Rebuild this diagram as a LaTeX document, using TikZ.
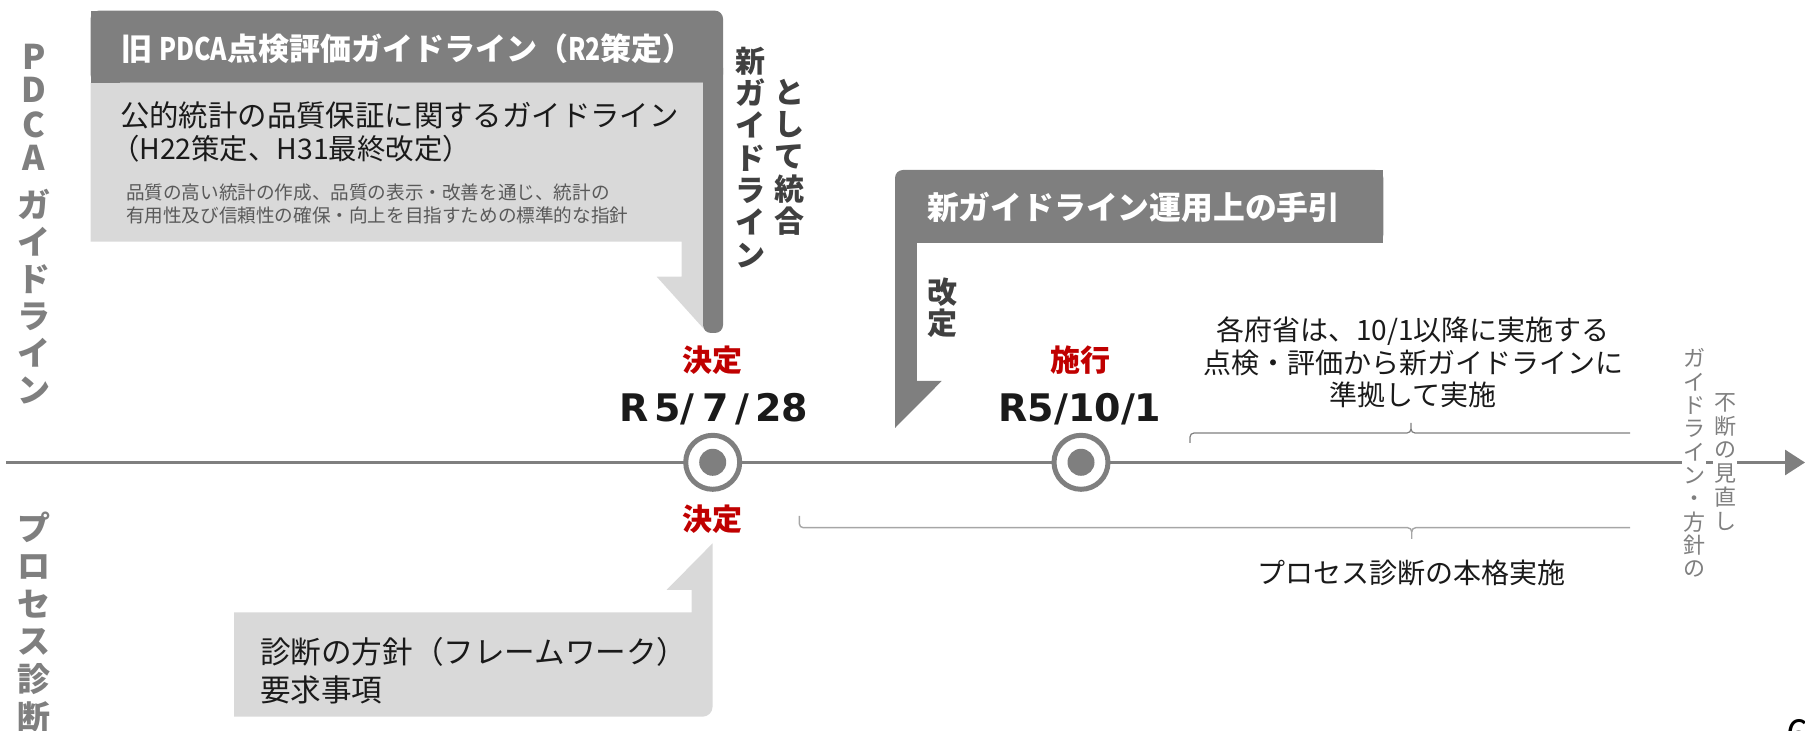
\documentclass[tikz,border=0pt]{standalone}
\usepackage{fontspec}
\usepackage{graphicx}
\setmainfont{Noto Sans CJK JP}
\newfontfamily\dvfont{DejaVu Sans}
\usetikzlibrary{arrows.meta}
\definecolor{dgray}{HTML}{7F7F7F}
\definecolor{lgray}{HTML}{D9D9D9}
\definecolor{jred}{HTML}{C00000}
\definecolor{txt}{HTML}{1A1A1A}
\definecolor{vgray}{HTML}{404040}
\definecolor{sgray}{HTML}{595959}
\definecolor{bgray}{HTML}{A6A6A6}
\begin{document}
\begin{tikzpicture}[x=0.5pt,y=-0.5pt]
\tikzset{
  base/.style={inner sep=0pt, outer sep=0pt},
  ttl/.style={base, anchor=west, text=white, font=\fontsize{15.5}{18}\selectfont\bfseries},
  body/.style={base, anchor=west, text=txt, font=\fontsize{14.7}{18}\selectfont},
  small/.style={base, anchor=west, text=sgray, font=\fontsize{9.3}{11}\selectfont},
  vdark/.style={base, text height=13.2pt, text depth=1.8pt, text=vgray, font=\fontsize{15}{15}\selectfont\bfseries},
  vside/.style={base, text height=14.5pt, text depth=2pt, text=dgray, font=\fontsize{16.5}{16.5}\selectfont\bfseries},
  vlat/.style={base, text height=12.4pt, text depth=0pt, text=dgray, font=\fontsize{17}{17}\selectfont\bfseries},
  vthin/.style={base, text height=9.7pt, text depth=1.3pt, text=dgray, font=\fontsize{11}{11}\selectfont},
  redlbl/.style={base, text=jred, font=\fontsize{15}{15}\selectfont\bfseries},
  datelbl/.style={base, anchor=base, text=txt, font=\dvfont\fontsize{19}{19}\selectfont\bfseries},
  note/.style={base, text=txt, align=center, font=\fontsize{14}{16.25}\selectfont},
  ring/.style={circle, draw=dgray, line width=2.5pt, fill=white, minimum size=27pt, inner sep=0pt},
  dot/.style={circle, fill=dgray, minimum size=13.5pt, inner sep=0pt},
  ubrace/.style={draw=dgray, line width=0.6pt},
  lbrace/.style={draw=bgray, line width=0.7pt},
}
\useasboundingbox (0,0) rectangle (1805,731);

% ---------- upper-left callout ----------
\fill[lgray] (90.6,82.7) -- (703,82.7) -- (703,328) -- (656.7,276.7) -- (681.7,276.7)
  -- (681.7,241.7) -- (90.6,241.7) -- cycle;
\fill[dgray, rounded corners=4pt] (90.6,10.7) rectangle (723,82.7);
\fill[dgray] (90.6,10.7) rectangle (120,82.7);
\fill[dgray, rounded corners=4pt] (703,60) rectangle (723,333);

\node[ttl] (t1) at (121,48.5) {旧 \scalebox{0.8}[1]{PDCA}点検評価ガイドライン（\scalebox{0.8}[1]{R2}策定）};
\node[body] (b1) at (120,115) {公的統計の品質保証に関するガイドライン};
\node[body, font=\fontsize{14.2}{18}\selectfont] (b2) at (111,149) {（H22策定、H31最終改定）};
\node[small] (s1) at (126,192) {品質の高い統計の作成、品質の表示・改善を通じ、統計の};
\node[small] (s2) at (126,215) {有用性及び信頼性の確保・向上を目指すための標準的な指針};

% vertical: 新ガイドライン / として統合
\foreach \c [count=\i from 0] in {新,ガ,イ,ド,ラ,イ,ン}
  \node[vdark] (na\i) at (750,61+32.3*\i) {\c};
\foreach \c [count=\i from 0] in {と,し,て,統,合}
  \node[vdark] (nb\i) at (789,92+32.3*\i) {\c};

% ---------- second dark callout ----------
\fill[dgray, rounded corners=4pt] (895,170) rectangle (1383.3,242.7);
\fill[dgray] (910,170) rectangle (1383.3,242.7);
\fill[dgray] (895,180) rectangle (916.7,381.7);
\fill[dgray] (895,381) -- (941.7,381) -- (895,428) -- cycle;
\node[ttl, font=\fontsize{15.9}{18}\selectfont\bfseries] (t2) at (927,207.5) {新ガイドライン運用上の手引};
\foreach \c [count=\i from 0] in {改,定}
  \node[vdark] (kt\i) at (942.5,292.5+31*\i) {\c};

% ---------- lower-left callout ----------
\fill[lgray] (234,612.3) -- (691.7,612.3) -- (691.7,590) -- (666.5,590) -- (712.6,543.3)
  -- (712.6,600) [rounded corners=5pt] -- (712.6,716.7) -- (600,716.7) [sharp corners]
  -- (234,716.7) -- cycle;
\node[body, font=\fontsize{15.3}{18}\selectfont] (f1) at (260,651.7) {診断の方針（フレームワーク）};
\node[body, font=\fontsize{15.3}{18}\selectfont] (f2) at (260,690) {要求事項};

% ---------- side labels ----------
\foreach \c/\y in {P/57,D/90,C/125,A/158}
  \node[vlat] (pd\c) at (34,\y) {\c};
\foreach \c [count=\i from 0] in {ガ,イ,ド,ラ,イ,ン}
  \node[vside] (pg\i) at (34,205+37*\i) {\c};
\foreach \c [count=\i from 0] in {プ,ロ,セ,ス,診,断}
  \node[vside] (ps\i) at (34,528+37.8*\i) {\c};

% ---------- timeline ----------
\coordinate (tl0) at (6,462.5);
\coordinate (tl1) at (1805,462.5);
\draw[dgray, line width=1.5pt, -{Triangle[length=10pt,width=12.5pt]}] (tl0) -- (tl1);

\node[ring] (c1) at (712.7,462.3) {};
\node[dot] (d1) at (712.7,462.3) {};
\node[ring] (c2) at (1081,462.3) {};
\node[dot] (d2) at (1081,462.3) {};

\node[redlbl] (k1) at (712.6,360) {決定};
\node[datelbl] (r1) at (713.5,421.7) {R\kern3pt 5/\kern4pt 7\kern3pt /\kern3pt 28};
\node[redlbl] (k2) at (712.6,519.5) {決定};
\node[redlbl] (sk) at (1080,360) {施行};
\node[datelbl] (r2) at (1080,421.7) {R5/10/1};

% ---------- right texts ----------
\node[note] (n1) at (1413,362.5) {各府省は、10/1以降に実施する\\点検・評価から新ガイドラインに\\準拠して実施};
\node[note] (n2) at (1411.7,573) {プロセス診断の本格実施};

% braces
\coordinate (ua) at (1190,443);
\coordinate (um) at (1411,423);
\coordinate (ub) at (1630,433);
\draw[ubrace] (ua) -- (1190,437) to[out=90,in=180] (1194,433) -- (1407,433)
  to[out=0,in=-90] (1411,429) -- (um);
\draw[ubrace] (1411,429) to[out=-90,in=180] (1415,433) -- (ub);
\coordinate (la) at (799.3,516);
\coordinate (lm) at (1411.7,539);
\coordinate (lb) at (1630,527.7);
\draw[lbrace] (la) -- (799.3,523.7) to[out=-90,in=180] (803.3,527.7) -- (1407.7,527.7)
  to[out=0,in=90] (1411.7,531.7) -- (lm);
\draw[lbrace] (1411.7,531.7) to[out=90,in=180] (1415.7,527.7) -- (lb);

% right vertical texts
\fill[white] (1682,342) rectangle (1706,585);
\fill[white] (1713,386) rectangle (1737,538);
\foreach \c [count=\i from 0] in {ガ,イ,ド,ラ,イ,ン,・,方,針,の}
  \node[vthin] (ra\i) at (1694,358.6+23.3*\i) {\c};
\foreach \c [count=\i from 0] in {不,断,の,見,直,し}
  \node[vthin] (rb\i) at (1725,402+23.8*\i) {\c};

% partial page number
\node[base, anchor=north west, text=black, font=\fontsize{20}{20}\selectfont] (pg) at (1786,719) {6};
\end{tikzpicture}
\end{document}
